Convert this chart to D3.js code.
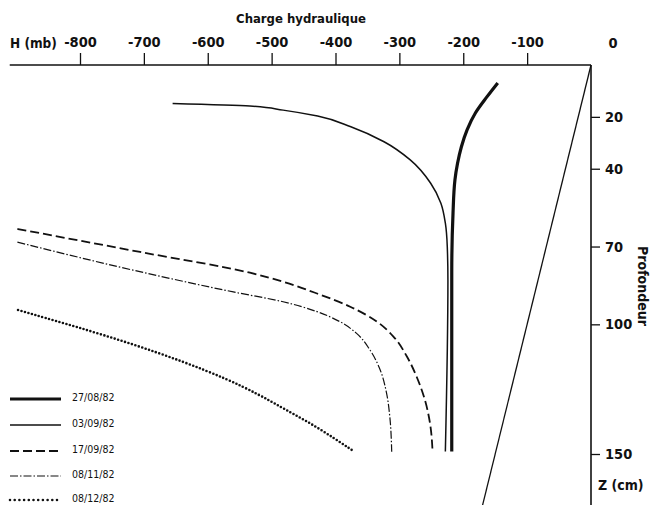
<!DOCTYPE html>
<meta charset="utf-8">
<title>Charge hydraulique</title>
<script src="https://d3js.org/d3.v7.min.js"></script>
<style>
  body { margin: 0; background: #fff; }
  text { font-family: "DejaVu Sans Condensed", "DejaVu Sans", sans-serif; fill: #111; }
</style>
<body>
<script>

// tick values
const hTicks = [-800, -700, -600, -500, -400, -300, -200, -100];
const zTicks = [20, 40, 70, 100, 150];

// profiles: depth (cm) and hydraulic head (mb)
const dates = ["27/08/82", "03/09/82", "17/09/82", "08/11/82", "08/12/82"];

const z1 = [6.9, 12.3, 18.5, 25, 31.6, 38, 44.3, 57, 80, 149];
const h1 = [-146, -163, -181, -194, -203, -209, -213, -216, -218, -218];

const z2 = [14.8, 15.8, 17.4, 19.7, 23.8, 29.6, 36.6, 45.6, 53.3, 61.0, 70.1, 82.9, 149];
const h2 = [-655, -534, -482, -428, -376, -324, -283, -251, -235, -228, -225, -224, -228];

const z3 = [63.2, 72.1, 80.1, 83.6, 88.1, 93.2, 99.0, 104.8, 112.5, 120.2, 129.2, 138.2, 149.1];
const h3 = [-898, -706, -534, -482, -429, -377, -335, -309, -288, -273, -260, -252, -248];

const z4 = [68.3, 79.1, 87.5, 91.3, 95.1, 99.0, 103.5, 109.9, 117.6, 126.6, 135.6, 149.1];
const h4 = [-898, -717, -560, -482, -429, -393, -367, -346, -330, -320, -315, -312];

const z5 = [94.5, 107.2, 121.5, 132.4, 139.5, 148.7];
const h5 = [-897, -717, -560, -482, -429, -373];

// gravity line H = -z
const zGrav = [0, 170];
const hGrav = [0, -170];

const width = 652, height = 505;

const x = d3.scaleLinear().domain([-800, 0]).range([80, 591]);
const y = d3.scaleLinear().domain([0, 150]).range([65, 454]);

const svg = d3.select("body").append("svg")
  .attr("width", width)
  .attr("height", height);

// axes
const xAxis = svg.append("g")
  .attr("transform", `translate(0,${y(0)})`)
  .call(d3.axisTop(x).tickValues(hTicks).tickSize(12).tickPadding(6)
    .tickFormat(d => "-" + Math.abs(d)));
xAxis.select(".domain").remove();
xAxis.selectAll("line").attr("stroke", "#111").attr("stroke-width", 1.3);
xAxis.selectAll("text").attr("font-size", 14.5).attr("font-weight", "bold").attr("fill", "#111");
svg.append("line")
  .attr("x1", x(-910)).attr("x2", x(0))
  .attr("y1", y(0)).attr("y2", y(0))
  .attr("stroke", "#111").attr("stroke-width", 1.6);

const yAxis = svg.append("g")
  .attr("transform", `translate(${x(0)},0)`)
  .call(d3.axisRight(y).tickValues(zTicks).tickSize(9).tickPadding(5));
yAxis.select(".domain").remove();
yAxis.selectAll("line").attr("stroke", "#111").attr("stroke-width", 1.3);
yAxis.selectAll("text").attr("font-size", 14.5).attr("font-weight", "bold").attr("fill", "#111");
svg.append("line")
  .attr("x1", x(0)).attr("x2", x(0))
  .attr("y1", y(0)).attr("y2", height)
  .attr("stroke", "#111").attr("stroke-width", 1.6);

// axis labels
svg.append("text")
  .attr("x", 301).attr("y", 23)
  .attr("text-anchor", "middle")
  .attr("font-size", 13).attr("font-weight", "bold")
  .text("Charge hydraulique");
svg.append("text")
  .attr("x", 10).attr("y", 48)
  .attr("font-size", 13.5).attr("font-weight", "bold")
  .text("H (mb)");
svg.append("text")
  .attr("x", x(0) + 22).attr("y", 48)
  .attr("text-anchor", "middle")
  .attr("font-size", 14.5).attr("font-weight", "bold")
  .text("0");
svg.append("text")
  .attr("transform", `translate(638,286) rotate(90)`)
  .attr("text-anchor", "middle")
  .attr("font-size", 14).attr("font-weight", "bold")
  .text("Profondeur");
svg.append("text")
  .attr("x", 598).attr("y", 490)
  .attr("font-size", 14).attr("font-weight", "bold")
  .text("Z (cm)");

// gravity line
svg.append("path")
  .attr("d", d3.line().x(d => x(d[1])).y(d => y(d[0]))(d3.zip(zGrav, hGrav)))
  .attr("fill", "none").attr("stroke", "#111").attr("stroke-width", 1.3);

const line = d3.line()
  .x(d => x(d[1]))
  .y(d => y(d[0]))
  .curve(d3.curveMonotoneY);
const smoothLine = d3.line()
  .x(d => x(d[1]))
  .y(d => y(d[0]))
  .curve(d3.curveBasis);

const styles = [
  { w: 3.2, dash: null, cap: "butt" },
  { w: 1.5, dash: null, cap: "butt" },
  { w: 1.8, dash: "9,4", cap: "butt" },
  { w: 1.2, dash: "8,2,1.5,2", cap: "butt" },
  { w: 2.6, dash: "0,3.6", cap: "round" }
];
const series = [d3.zip(z1, h1), d3.zip(z2, h2), d3.zip(z3, h3), d3.zip(z4, h4), d3.zip(z5, h5)];

series.forEach((s, i) => {
  svg.append("path")
    .attr("d", i === 4 ? smoothLine(s) : line(s))
    .attr("fill", "none")
    .attr("stroke", "#111")
    .attr("stroke-width", styles[i].w)
    .attr("stroke-dasharray", styles[i].dash)
    .attr("stroke-linecap", styles[i].cap);
});

// legend
const legendY = [399, 425, 451, 476, 500];
dates.forEach((d, i) => {
  const g = svg.append("g").attr("transform", `translate(0,${legendY[i]})`);
  g.append("line")
    .attr("x1", 10).attr("x2", 61)
    .attr("stroke", "#111")
    .attr("stroke-width", styles[i].w)
    .attr("stroke-dasharray", i === 4 ? "0,4.7" : styles[i].dash)
    .attr("stroke-linecap", styles[i].cap);
  g.append("text")
    .attr("x", 72).attr("y", 1.5)
    .attr("font-size", 10.5)
    .text(d);
});

</script>
</body>
